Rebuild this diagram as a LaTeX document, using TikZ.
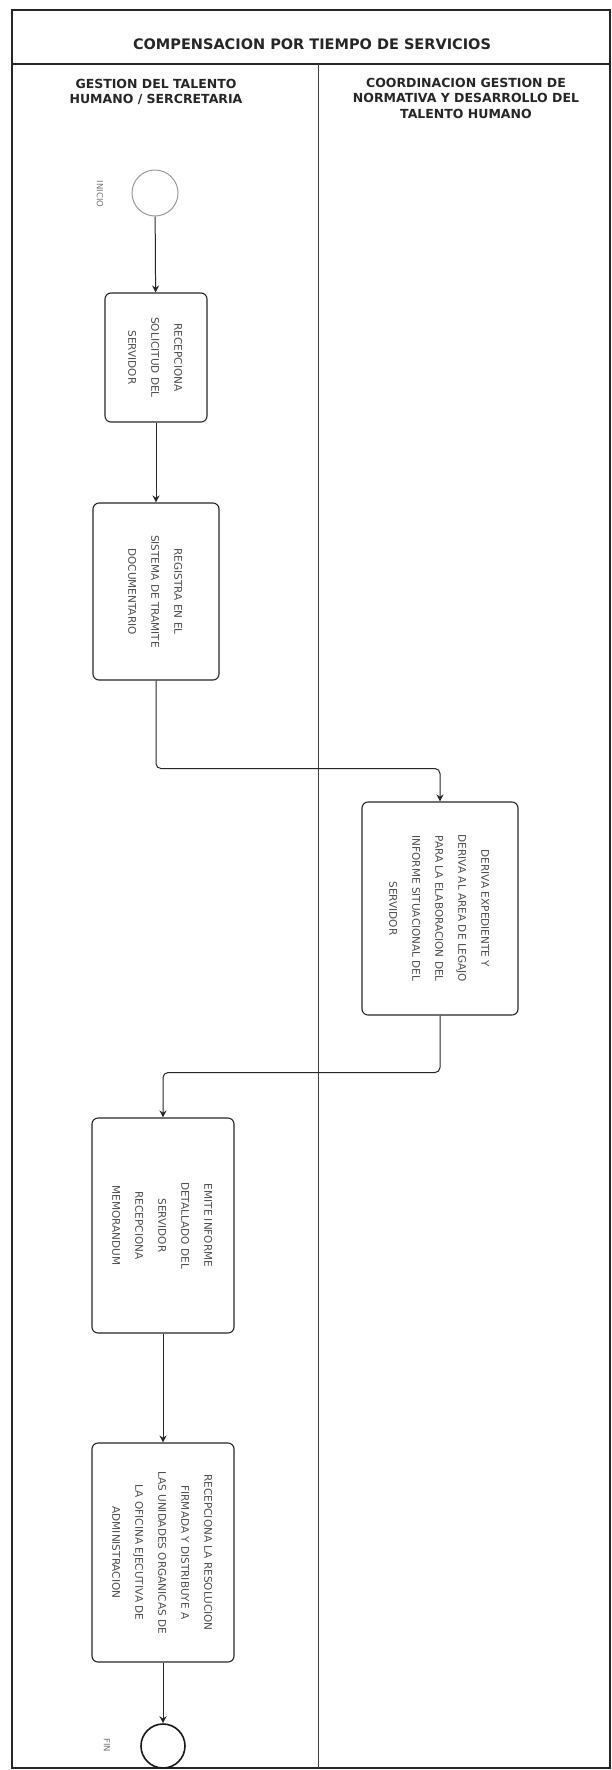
\documentclass[tikz,border=0pt]{standalone}
\usepackage{fontspec}
\setmainfont{DejaVu Sans}
\usetikzlibrary{arrows.meta,positioning}
\newcommand{\vtexto}[1]{\rotatebox{-90}{\begin{tabular}{@{}c@{}}#1\end{tabular}}}

\begin{document}
\begin{tikzpicture}[
    x=1pt, y=-1pt,
    marco/.style={draw=black!85, line width=1.2pt},
    carril/.style={draw=black!75, line width=0.8pt},
    tarea/.style={rectangle, draw=black!85, line width=1.1pt, rounded corners=6pt, inner sep=0pt, font=\fontsize{10.5}{23}\selectfont, text=black!70},
    evento/.style={circle, draw, inner sep=0pt, minimum size=46pt},
    arrow/.style={->, >={Stealth[length=7pt,width=7pt]}, line width=1pt, draw=black!85, rounded corners=5pt},
    titulo/.style={font=\bfseries\fontsize{12.5}{15.5}\selectfont, align=center, text=black!85},
    etiqueta/.style={rotate=-90, font=\fontsize{8.5}{9}\selectfont, text=black!55}
]
\useasboundingbox (0,0) rectangle (612,1770);

% Marco y carriles
\draw[marco] (12,10) rectangle (610,1768);
\draw[marco] (12,64) -- (610,64);
\draw[carril] (318,64) -- (318,1768);

% Titulos
\node[titulo, font=\bfseries\fontsize{14.5}{16}\selectfont] (titulo) at (312,44) {COMPENSACION POR TIEMPO DE SERVICIOS};
\node[titulo] (carril1) at (156,92) {GESTION DEL TALENTO\\HUMANO / SERCRETARIA};
\node[titulo] (carril2) at (466,98) {COORDINACION GESTION DE\\NORMATIVA Y DESARROLLO DEL\\TALENTO HUMANO};

% Eventos
\node[evento, draw=black!40, line width=1pt] (inicio) at (155,193) {};
\node[etiqueta] (lblinicio) at (100,194) {INICIO};
\node[evento, draw=black!90, line width=1.6pt, minimum size=44pt] (fin) at (163,1746) {};
\node[etiqueta] (lblfin) at (107,1745) {FIN};

% Tareas
\node[tarea, minimum width=102pt, minimum height=129pt] (recepciona) at (156,357.5)
    {\vtexto{RECEPCIONA\\SOLICITUD DEL\\SERVIDOR}};
\node[tarea, minimum width=126pt, minimum height=177pt] (registra) at (156,591.5)
    {\vtexto{REGISTRA EN EL\\SISTEMA DE TRAMITE\\DOCUMENTARIO}};
\node[tarea, minimum width=156pt, minimum height=213pt] (deriva) at (440,908.5)
    {\vtexto{DERIVA EXPEDIENTE Y\\DERIVA AL AREA DE LEGAJO\\PARA LA ELABORACION DEL\\INFORME SITUACIONAL DEL\\SERVIDOR}};
\node[tarea, minimum width=142pt, minimum height=215pt] (emite) at (163,1225.5)
    {\vtexto{EMITE INFORME\\DETALLADO DEL\\SERVIDOR\\RECEPCIONA\\MEMORANDUM}};
\node[tarea, minimum width=142pt, minimum height=219pt] (distribuye) at (163,1552.5)
    {\vtexto{RECEPCIONA LA RESOLUCION\\FIRMADA Y DISTRIBUYE A\\LAS UNIDADES ORGANICAS DE\\LA OFICINA EJECUTIVA DE\\ADMINISTRACION}};

% Flujo
\draw[arrow] (inicio) -- (recepciona);
\draw[arrow] (recepciona) -- (registra);
\draw[arrow] (registra.south) -- ++(0,88) -| (deriva.north);
\draw[arrow] (deriva.south) -- ++(0,57) -| (emite.north);
\draw[arrow] (emite) -- (distribuye);
\draw[arrow] (distribuye) -- (fin);

\end{tikzpicture}
\end{document}
